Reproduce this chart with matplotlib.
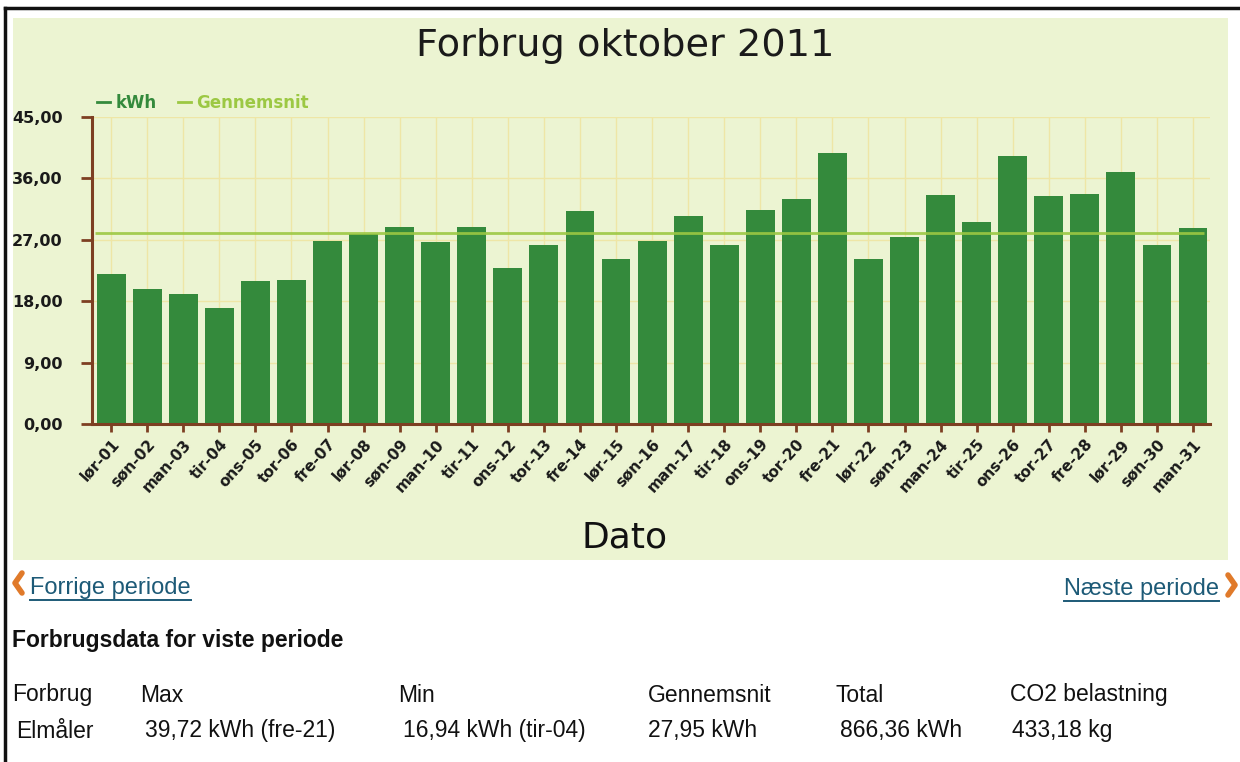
import matplotlib
matplotlib.use("Agg")
import matplotlib.pyplot as plt
from matplotlib.lines import Line2D
from matplotlib.patches import Rectangle
from matplotlib.ticker import FuncFormatter

# ---------------- data ----------------
days = ["lør-01", "søn-02", "man-03", "tir-04", "ons-05", "tor-06", "fre-07", "lør-08",
        "søn-09", "man-10", "tir-11", "ons-12", "tor-13", "fre-14", "lør-15", "søn-16",
        "man-17", "tir-18", "ons-19", "tor-20", "fre-21", "lør-22", "søn-23", "man-24",
        "tir-25", "ons-26", "tor-27", "fre-28", "lør-29", "søn-30", "man-31"]
kwh = [22.0, 19.8, 19.1, 16.94, 21.0, 21.1, 26.8, 27.9,
       28.9, 26.7, 28.9, 22.9, 26.2, 31.2, 24.2, 26.8,
       30.5, 26.2, 31.4, 33.0, 39.72, 24.2, 27.4, 33.6,
       29.6, 39.3, 33.4, 33.7, 36.9, 26.2, 28.7]
average = 27.95
y_ticks = [0, 9, 18, 27, 36, 45]

title = "Forbrug oktober 2011"
xlabel = "Dato"
legend_labels = ["kWh", "Gennemsnit"]

table_header = ["Forbrug", "Max", "Min", "Gennemsnit", "Total", "CO2 belastning"]
table_row = ["Elmåler", "39,72 kWh (fre-21)", "16,94 kWh (tir-04)", "27,95 kWh",
             "866,36 kWh", "433,18 kg"]

# ---------------- style ----------------
W, H = 1240, 762
BAR = "#348a3c"
AVG = "#9cc843"
SPINE = "#7d3f22"
PANEL = "#ecf4d2"
GRID = "#eee6a6"
LINK = "#1d5a77"
ORANGE = "#e07a2a"

fig = plt.figure(figsize=(W / 100, H / 100), dpi=100)
fig.patch.set_facecolor("white")

def fx(px):
    return px / W

def fy(py):
    return 1 - py / H

# chart panel background
fig.add_artist(Rectangle((fx(13), fy(560)), fx(1228 - 13), (560 - 18) / H,
                         transform=fig.transFigure, facecolor=PANEL,
                         edgecolor="none", zorder=0))
# page frame lines
fig.add_artist(Line2D([fx(5), 1], [fy(8), fy(8)], transform=fig.transFigure,
                      color="#111111", lw=2.5))
fig.add_artist(Line2D([fx(5), fx(5)], [fy(8), 0], transform=fig.transFigure,
                      color="#111111", lw=2.5))

ax = fig.add_axes([fx(92), fy(424), fx(1210 - 92), (424 - 117) / H])
ax.patch.set_visible(False)

x = list(range(len(days)))
ax.bar(x, kwh, width=0.8, color=BAR, zorder=3)
ax.hlines(average, -0.45, len(days) - 0.7, color=AVG, lw=2, alpha=0.9, zorder=4)

ax.set_xlim(-0.53, len(days) - 1 + 0.47)
ax.set_ylim(0, 45)
ax.set_yticks(y_ticks)
ax.yaxis.set_major_formatter(FuncFormatter(lambda v, p: f"{v:.2f}".replace(".", ",")))
ax.set_xticks(x)
ax.set_xticklabels(days, rotation=48, ha="right", va="top", rotation_mode="anchor",
                   fontsize=11, fontweight="bold", color="#1a1a1a")
for lab in ax.get_yticklabels():
    lab.set_fontsize(11.5)
    lab.set_fontweight("bold")
    lab.set_color("#1a1a1a")

ax.grid(True, color=GRID, lw=1, zorder=1)
ax.set_axisbelow(True)

for s in ["top", "right"]:
    ax.spines[s].set_visible(False)
for s in ["left", "bottom"]:
    ax.spines[s].set_color(SPINE)
    ax.spines[s].set_linewidth(2.2)
    ax.spines[s].set_zorder(5)
ax.tick_params(axis="both", colors=SPINE, width=2, length=6, direction="out")
ax.tick_params(axis="x", pad=3)
ax.tick_params(axis="y", length=8, pad=13)
for lab in ax.get_xticklabels() + ax.get_yticklabels():
    lab.set_color("#1a1a1a")

# legend
handles = [Line2D([], [], color=BAR, lw=2), Line2D([], [], color=AVG, lw=2)]
leg = ax.legend(handles, legend_labels, loc="lower left", bbox_to_anchor=(0.0, 1.0),
                ncol=2, frameon=False, handlelength=0.8, handletextpad=0.3,
                columnspacing=1.3, borderpad=0.1, borderaxespad=0.2,
                prop={"size": 12, "weight": "bold"}, labelcolor="linecolor")

# titles
fig.text(fx(625), fy(46), title, ha="center", va="center", fontsize=27.5, color="#1a1a1a")
fig.text(fx(625), fy(537), xlabel, ha="center", va="center", fontsize=26, color="#111111")

# ---------------- lower page section ----------------
TF = ["Liberation Sans Narrow", "Liberation Sans", "DejaVu Sans"]
renderer = fig.canvas.get_renderer()

def link(px, py, s, ha):
    t = fig.text(fx(px), fy(py), s, ha=ha, va="center", fontsize=17, color=LINK,
                 family=TF)
    bb = t.get_window_extent(renderer=renderer)
    yline = bb.y0 - 1
    fig.add_artist(Line2D([bb.x0 / W, bb.x1 / W], [yline / H, yline / H],
                          transform=fig.transFigure, color=LINK, lw=1.4))
    return bb

link(30, 588, "Forrige periode", "left")
link(1219, 589, "Næste periode", "right")

# chevrons
fig.add_artist(Line2D([fx(22), fx(15), fx(22)], [fy(573), fy(583), fy(593)],
                      transform=fig.transFigure, color=ORANGE, lw=4,
                      solid_capstyle="round", solid_joinstyle="round"))
fig.add_artist(Line2D([fx(1228), fx(1235), fx(1228)], [fy(575), fy(585), fy(595)],
                      transform=fig.transFigure, color=ORANGE, lw=4,
                      solid_capstyle="round", solid_joinstyle="round"))

fig.text(fx(12), fy(641), "Forbrugsdata for viste periode", ha="left", va="center",
         fontsize=16.5, fontweight="bold", color="#111111", family=TF)

hx = [12, 140, 398, 648, 835, 1010]
rx = [16, 145, 403, 648, 840, 1012]
for px, s in zip(hx, table_header):
    fig.text(fx(px), fy(695), s, ha="left", va="center", fontsize=16.5,
             color="#111111", family=TF)
for px, s in zip(rx, table_row):
    fig.text(fx(px), fy(731), s, ha="left", va="center", fontsize=16.5,
             color="#111111", family=TF)

fig.savefig("out.png", dpi=100)
